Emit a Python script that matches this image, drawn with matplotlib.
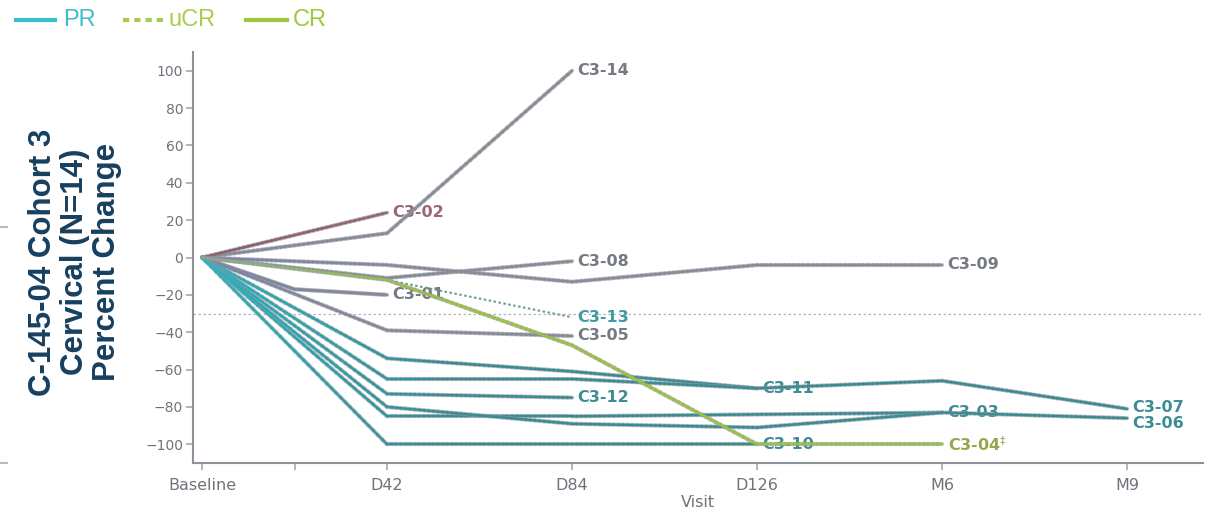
import numpy as np
import matplotlib
matplotlib.use("Agg")
import matplotlib.pyplot as plt
from matplotlib.collections import LineCollection
from matplotlib.lines import Line2D
from matplotlib.colors import to_rgb
import matplotlib.patheffects as pe

# ---- data -------------------------------------------------------------
visit_labels = ["Baseline", "D42", "D84", "D126", "M6", "M9"]
visit_index = {"Baseline": 0.0, "D21": 0.5, "D42": 1.0, "D84": 2.0,
               "D126": 3.0, "M6": 4.0, "M9": 5.0}

patient_ids = ["C3-14", "C3-02", "C3-08", "C3-09", "C3-01", "C3-13", "C3-05",
               "C3-04", "C3-11", "C3-07", "C3-12", "C3-03", "C3-06", "C3-10"]

patient_visits = [
    ["Baseline", "D42", "D84"],
    ["Baseline", "D42"],
    ["Baseline", "D42", "D84"],
    ["Baseline", "D42", "D84", "D126", "M6"],
    ["Baseline", "D21", "D42"],
    ["Baseline", "D42", "D84"],
    ["Baseline", "D42", "D84"],
    ["Baseline", "D42", "D84", "D126", "M6"],
    ["Baseline", "D42", "D84", "D126"],
    ["Baseline", "D42", "D84", "D126", "M6", "M9"],
    ["Baseline", "D42", "D84"],
    ["Baseline", "D42", "D84", "D126", "M6"],
    ["Baseline", "D42", "D84", "D126", "M6", "M9"],
    ["Baseline", "D42", "D84", "D126"],
]

patient_change = [
    [0, 13, 100],
    [0, 24],
    [0, -11, -2],
    [0, -4, -13, -4, -4],
    [0, -17, -20],
    [0, -12, -32],
    [0, -39, -42],
    [0, -12, -47, -100, -100],
    [0, -54, -61, -70],
    [0, -65, -65, -70, -66, -81],
    [0, -73, -75],
    [0, -85, -85, -84, -83],
    [0, -80, -89, -91, -83, -86],
    [0, -100, -100, -100],
]

patient_response = ["PD", "NE", "SD", "SD", "SD", "uCR", "SD",
                    "CR", "PR", "PR", "PR", "PR", "PR", "PR"]

threshold = -30

# ---- styles -----------------------------------------------------------
line_start = {"PR": "#1fb9c6", "uCR": "#86a880", "CR": "#8fa493",
              "SD": "#7b82a8", "PD": "#858a9a", "NE": "#8c5a6c"}
line_end = {"PR": "#3a8c92", "uCR": "#5a93a0", "CR": "#9cc23c",
            "SD": "#8a8c95", "PD": "#8a8c94", "NE": "#9b6874"}
label_color = {"PR": "#3f8d94", "uCR": "#3f9aa2", "CR": "#93a84e",
               "SD": "#767a82", "PD": "#767a82", "NE": "#9a6672"}
label_text = {"C3-04": "C3-04$^{\\ddag}$"}
label_shift = {"C3-06": -4, "C3-07": 1}

W, H = 1208, 519
fig = plt.figure(figsize=(W / 100, H / 100), dpi=100)
ax = fig.add_axes([193 / W, 1 - 463 / H, (1203 - 193) / W, (463 - 52) / H])

outline = [pe.Stroke(linewidth=3.0, foreground="#8e979f", alpha=0.55), pe.Normal()]


def gradient_line(xs, ys, c0, c1, z, lw=1.7):
    """Polyline whose colour blends from c0 (baseline) to c1 (later visits)."""
    px, py = [], []
    for i in range(len(xs) - 1):
        t = np.linspace(0, 1, 40, endpoint=False)
        px.extend(xs[i] + (xs[i + 1] - xs[i]) * t)
        py.extend(ys[i] + (ys[i + 1] - ys[i]) * t)
    px.append(xs[-1])
    py.append(ys[-1])
    px, py = np.array(px), np.array(py)
    pts = np.column_stack([px, py]).reshape(-1, 1, 2)
    segs = np.concatenate([pts[:-1], pts[1:]], axis=1)
    mid = (px[:-1] + px[1:]) / 2
    w = np.clip(mid / 1.3, 0, 1) ** 0.8
    a, b = np.array(to_rgb(c0)), np.array(to_rgb(c1))
    cols = a[None, :] * (1 - w[:, None]) + b[None, :] * w[:, None]
    lc = LineCollection(segs, colors=cols, linewidths=lw, zorder=z,
                        capstyle="round", joinstyle="round")
    lc.set_path_effects(outline)
    ax.add_collection(lc)


ax.axhline(threshold, color="#b4b6ba", lw=0.9, ls=(0, (2, 2)), zorder=1)

for k, pid in enumerate(patient_ids):
    xs = [visit_index[v] for v in patient_visits[k]]
    ys = patient_change[k]
    resp = patient_response[k]
    if resp == "uCR":
        ax.plot(xs, ys, color="#6f9c8e", lw=1.5, ls=(0, (1.2, 1.2)), zorder=4)
    else:
        z = 5 if resp == "CR" else 3
        gradient_line(xs, ys, line_start[resp], line_end[resp], z)
    ax.annotate(label_text.get(pid, pid), xy=(xs[-1], ys[-1]),
                xytext=(4, label_shift.get(pid, 0)), textcoords="offset points",
                ha="left", va="center", fontsize=11.5, fontweight="bold",
                color=label_color[resp], zorder=2, annotation_clip=False)

# ---- axes -------------------------------------------------------------
ax.set_xlim(-0.049, 5.41)
ax.set_ylim(-110, 110)
ax.set_yticks(np.arange(-100, 101, 20))
ax.set_xticks([visit_index[v] for v in visit_labels])
ax.set_xticklabels(visit_labels)
ax.set_xticks([visit_index["D21"]], minor=True)

spine_col = "#8d9199"
for s in ["top", "right"]:
    ax.spines[s].set_visible(False)
for s in ["left", "bottom"]:
    ax.spines[s].set_color(spine_col)
    ax.spines[s].set_linewidth(1.5)
ax.tick_params(axis="both", which="both", direction="out", length=5,
               width=1.2, color="#a3a7ad")
ax.tick_params(axis="y", labelsize=10, labelcolor="#6e737b", pad=2)
ax.tick_params(axis="x", labelsize=11.5, labelcolor="#6e737b", pad=6)
ax.set_xlabel("Visit", fontsize=11.5, color="#6e737b", labelpad=1)

fig.text(0.062, 0.495, "C-145-04 Cohort 3\nCervical (N=14)\nPercent Change",
         rotation=90, ha="center", va="center", multialignment="center",
         fontsize=22.5, fontweight="bold", color="#173f5f",
         family="Liberation Sans", linespacing=1.1)

# small marks along the left margin
for yy in (227, 463):
    fig.add_artist(Line2D([0 / W, 7 / W], [1 - yy / H] * 2, color="#b8bcc0", lw=1.5))

# ---- legend -----------------------------------------------------------
legend_items = [("PR", "#3cbfcc", "-", 16, 55, 63),
                ("uCR", "#a8cc50", (0, (1.5, 1.2)), 123, 163, 168),
                ("CR", "#9cc83a", "-", 246, 287, 293)]
ly = 1 - 20 / H
for name, col, ls, x0, x1, xt in legend_items:
    fig.add_artist(Line2D([x0 / W, x1 / W], [ly, ly], color=col, lw=3, ls=ls))
    fig.text(xt / W, ly, name, ha="left", va="center", fontsize=17,
             color=col, family="Liberation Sans")

fig.savefig("out.png", dpi=100)
